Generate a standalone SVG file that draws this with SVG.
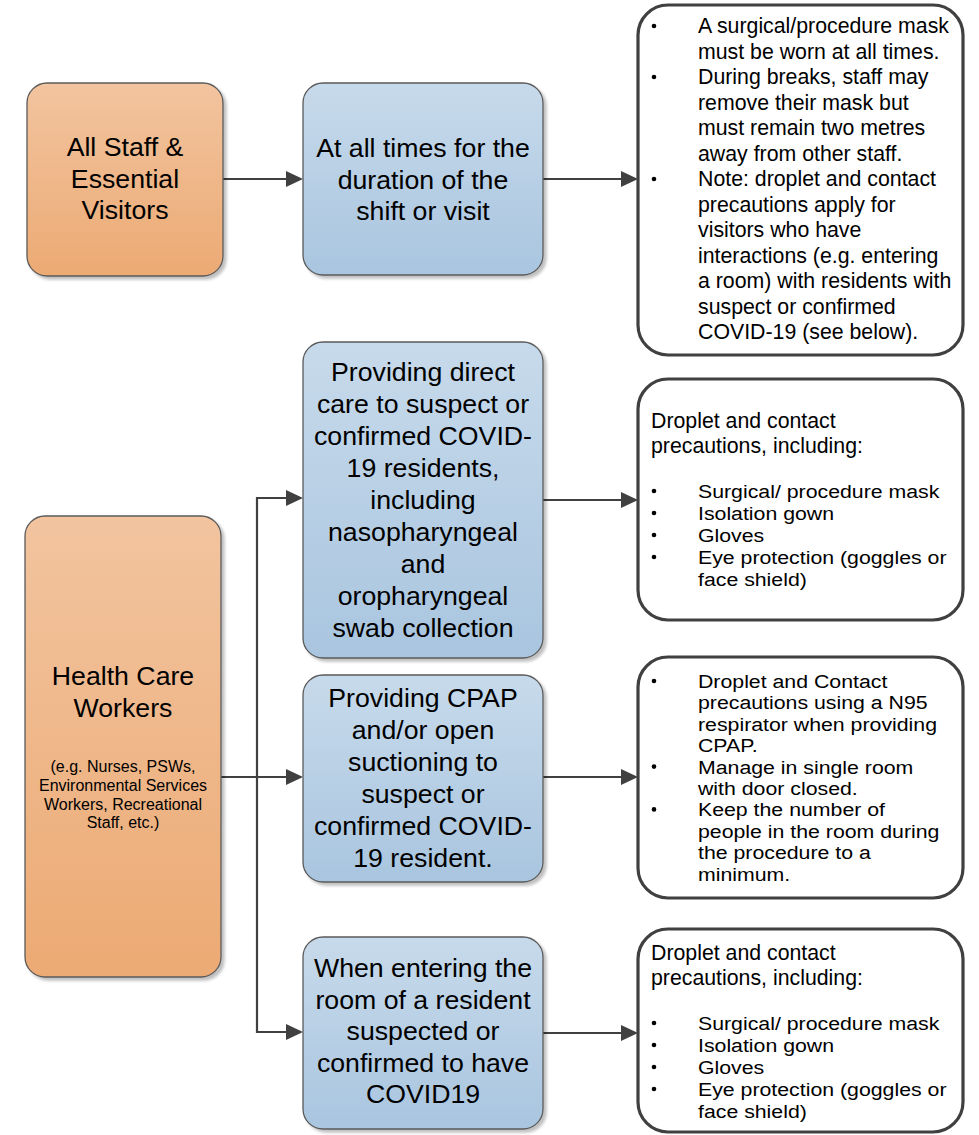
<svg xmlns="http://www.w3.org/2000/svg" width="979" height="1135" viewBox="0 0 979 1135">
<style>
text{font-family:"Liberation Sans",Arial,sans-serif;fill:#000}
.big{font-size:26.7px;text-anchor:middle}
.sm{font-size:16px;text-anchor:middle}
.rt{font-size:21.3px}
.tt{font-size:19px}
.dot{fill:#000}
.org{fill:url(#gOrange);stroke:#5a5a5a;stroke-width:1.3}
.blu{fill:url(#gBlue);stroke:#5a5a5a;stroke-width:1.3}
.wht{fill:#fff;stroke:#404040;stroke-width:3.2}
.con{fill:none;stroke:#404040;stroke-width:2.2}
</style>
<defs>
<linearGradient id="gOrange" x1="0" y1="0" x2="0" y2="1">
<stop offset="0" stop-color="#f2c49f"/><stop offset="1" stop-color="#ecaa74"/>
</linearGradient>
<linearGradient id="gBlue" x1="0" y1="0" x2="0" y2="1">
<stop offset="0" stop-color="#c7daeb"/><stop offset="1" stop-color="#a9c5df"/>
</linearGradient>
<filter id="sh" x="-10%" y="-10%" width="130%" height="130%">
<feGaussianBlur in="SourceAlpha" stdDeviation="1.5"/>
<feOffset dx="3" dy="3" result="b"/>
<feComponentTransfer><feFuncA type="linear" slope="0.25"/></feComponentTransfer>
<feMerge><feMergeNode/><feMergeNode in="SourceGraphic"/></feMerge>
</filter>
<marker id="arr" markerUnits="userSpaceOnUse" markerWidth="18" markerHeight="18" refX="13" refY="8" orient="auto">
<path d="M0,0 L17,8 L0,16 Z" fill="#404040"/>
</marker>
</defs>

<g id="connectors">
<path class="con" d="M223 179 H299" marker-end="url(#arr)"/>
<path class="con" d="M543 179 H634" marker-end="url(#arr)"/>
<path class="con" d="M221 777 H299" marker-end="url(#arr)"/>
<path class="con" d="M257 777 V498 H299" marker-end="url(#arr)"/>
<path class="con" d="M257 777 V1032 H299" marker-end="url(#arr)"/>
<path class="con" d="M543 500 H634" marker-end="url(#arr)"/>
<path class="con" d="M543 777 H634" marker-end="url(#arr)"/>
<path class="con" d="M543 1033 H634" marker-end="url(#arr)"/>
</g>

<g id="node-all-staff">
<rect class="org" x="27" y="83" width="196" height="193" rx="20" filter="url(#sh)"/>
<text class="big" x="125" y="156">All Staff &amp;</text>
<text class="big" x="125" y="187.5">Essential</text>
<text class="big" x="125" y="219">Visitors</text>
</g>

<g id="node-hcw">
<rect class="org" x="25" y="516" width="196" height="461" rx="20" filter="url(#sh)"/>
<text class="big" x="123" y="685">Health Care</text>
<text class="big" x="123" y="717">Workers</text>
<text class="sm" x="123" y="772">(e.g. Nurses, PSWs,</text>
<text class="sm" x="123" y="791">Environmental Services</text>
<text class="sm" x="123" y="810">Workers, Recreational</text>
<text class="sm" x="123" y="828">Staff, etc.)</text>
</g>

<g id="node-all-times">
<rect class="blu" x="303" y="83" width="240" height="192" rx="20" filter="url(#sh)"/>
<text class="big" x="423" y="157">At all times for the</text>
<text class="big" x="423" y="188.5">duration of the</text>
<text class="big" x="423" y="220">shift or visit</text>
</g>

<g id="node-direct-care">
<rect class="blu" x="303" y="342" width="240" height="316" rx="20" filter="url(#sh)"/>
<text class="big" x="423" y="381">Providing direct</text>
<text class="big" x="423" y="413">care to suspect or</text>
<text class="big" x="423" y="445">confirmed COVID-</text>
<text class="big" x="423" y="477">19 residents,</text>
<text class="big" x="423" y="509">including</text>
<text class="big" x="423" y="541">nasopharyngeal</text>
<text class="big" x="423" y="573">and</text>
<text class="big" x="423" y="605">oropharyngeal</text>
<text class="big" x="423" y="637">swab collection</text>
</g>

<g id="node-cpap">
<rect class="blu" x="303" y="675" width="240" height="207" rx="20" filter="url(#sh)"/>
<text class="big" x="423" y="707">Providing CPAP</text>
<text class="big" x="423" y="739">and/or open</text>
<text class="big" x="423" y="771">suctioning to</text>
<text class="big" x="423" y="803">suspect or</text>
<text class="big" x="423" y="835">confirmed COVID-</text>
<text class="big" x="423" y="867">19 resident.</text>
</g>

<g id="node-entering">
<rect class="blu" x="303" y="937" width="240" height="192" rx="20" filter="url(#sh)"/>
<text class="big" x="423" y="977">When entering the</text>
<text class="big" x="423" y="1008.5">room of a resident</text>
<text class="big" x="423" y="1040">suspected or</text>
<text class="big" x="423" y="1071.5">confirmed to have</text>
<text class="big" x="423" y="1103">COVID19</text>
</g>

<g id="node-mask-rules">
<rect class="wht" x="638" y="5" width="325" height="350" rx="30"/>
<circle class="dot" cx="654" cy="26" r="2.3"/>
<circle class="dot" cx="654" cy="77" r="2.3"/>
<circle class="dot" cx="654" cy="179" r="2.3"/>
<text class="rt" x="698" y="33">A surgical/procedure mask</text>
<text class="rt" x="698" y="58.5">must be worn at all times.</text>
<text class="rt" x="698" y="84">During breaks, staff may</text>
<text class="rt" x="698" y="109.5">remove their mask but</text>
<text class="rt" x="698" y="135">must remain two metres</text>
<text class="rt" x="698" y="160.5">away from other staff.</text>
<text class="rt" x="698" y="186">Note: droplet and contact</text>
<text class="rt" x="698" y="211.5">precautions apply for</text>
<text class="rt" x="698" y="237">visitors who have</text>
<text class="rt" x="698" y="262.5">interactions (e.g. entering</text>
<text class="rt" x="698" y="288">a room) with residents with</text>
<text class="rt" x="698" y="313.5">suspect or confirmed</text>
<text class="rt" x="698" y="339">COVID-19 (see below).</text>
</g>

<g id="node-droplet-1">
<rect class="wht" x="638" y="379" width="325" height="241" rx="30"/>
<text class="rt" x="651" y="428">Droplet and contact</text>
<text class="rt" x="651" y="453">precautions, including:</text>
<circle class="dot" cx="654" cy="491" r="2.3"/>
<circle class="dot" cx="654" cy="513" r="2.3"/>
<circle class="dot" cx="654" cy="535" r="2.3"/>
<circle class="dot" cx="654" cy="557" r="2.3"/>
<g transform="translate(698 0) scale(1.121 1) translate(-698 0)">
<text class="tt" x="698" y="498">Surgical/ procedure mask</text>
<text class="tt" x="698" y="520">Isolation gown</text>
<text class="tt" x="698" y="542">Gloves</text>
<text class="tt" x="698" y="564">Eye protection (goggles or</text>
<text class="tt" x="698" y="586">face shield)</text>
</g>
</g>

<g id="node-n95">
<rect class="wht" x="638" y="657" width="325" height="241" rx="30"/>
<circle class="dot" cx="654" cy="681" r="2.3"/>
<circle class="dot" cx="654" cy="766.6" r="2.3"/>
<circle class="dot" cx="654" cy="809.4" r="2.3"/>
<g transform="translate(698 0) scale(1.121 1) translate(-698 0)">
<text class="tt" x="698" y="688">Droplet and Contact</text>
<text class="tt" x="698" y="709.4">precautions using a N95</text>
<text class="tt" x="698" y="730.8">respirator when providing</text>
<text class="tt" x="698" y="752.2">CPAP.</text>
<text class="tt" x="698" y="773.6">Manage in single room</text>
<text class="tt" x="698" y="795">with door closed.</text>
<text class="tt" x="698" y="816.4">Keep the number of</text>
<text class="tt" x="698" y="837.8">people in the room during</text>
<text class="tt" x="698" y="859.2">the procedure to a</text>
<text class="tt" x="698" y="880.6">minimum.</text>
</g>
</g>

<g id="node-droplet-2">
<rect class="wht" x="638" y="929" width="325" height="203" rx="30"/>
<text class="rt" x="651" y="960">Droplet and contact</text>
<text class="rt" x="651" y="985">precautions, including:</text>
<circle class="dot" cx="654" cy="1023" r="2.3"/>
<circle class="dot" cx="654" cy="1045" r="2.3"/>
<circle class="dot" cx="654" cy="1067" r="2.3"/>
<circle class="dot" cx="654" cy="1089" r="2.3"/>
<g transform="translate(698 0) scale(1.121 1) translate(-698 0)">
<text class="tt" x="698" y="1030">Surgical/ procedure mask</text>
<text class="tt" x="698" y="1052">Isolation gown</text>
<text class="tt" x="698" y="1074">Gloves</text>
<text class="tt" x="698" y="1096">Eye protection (goggles or</text>
<text class="tt" x="698" y="1118">face shield)</text>
</g>
</g>
</svg>
